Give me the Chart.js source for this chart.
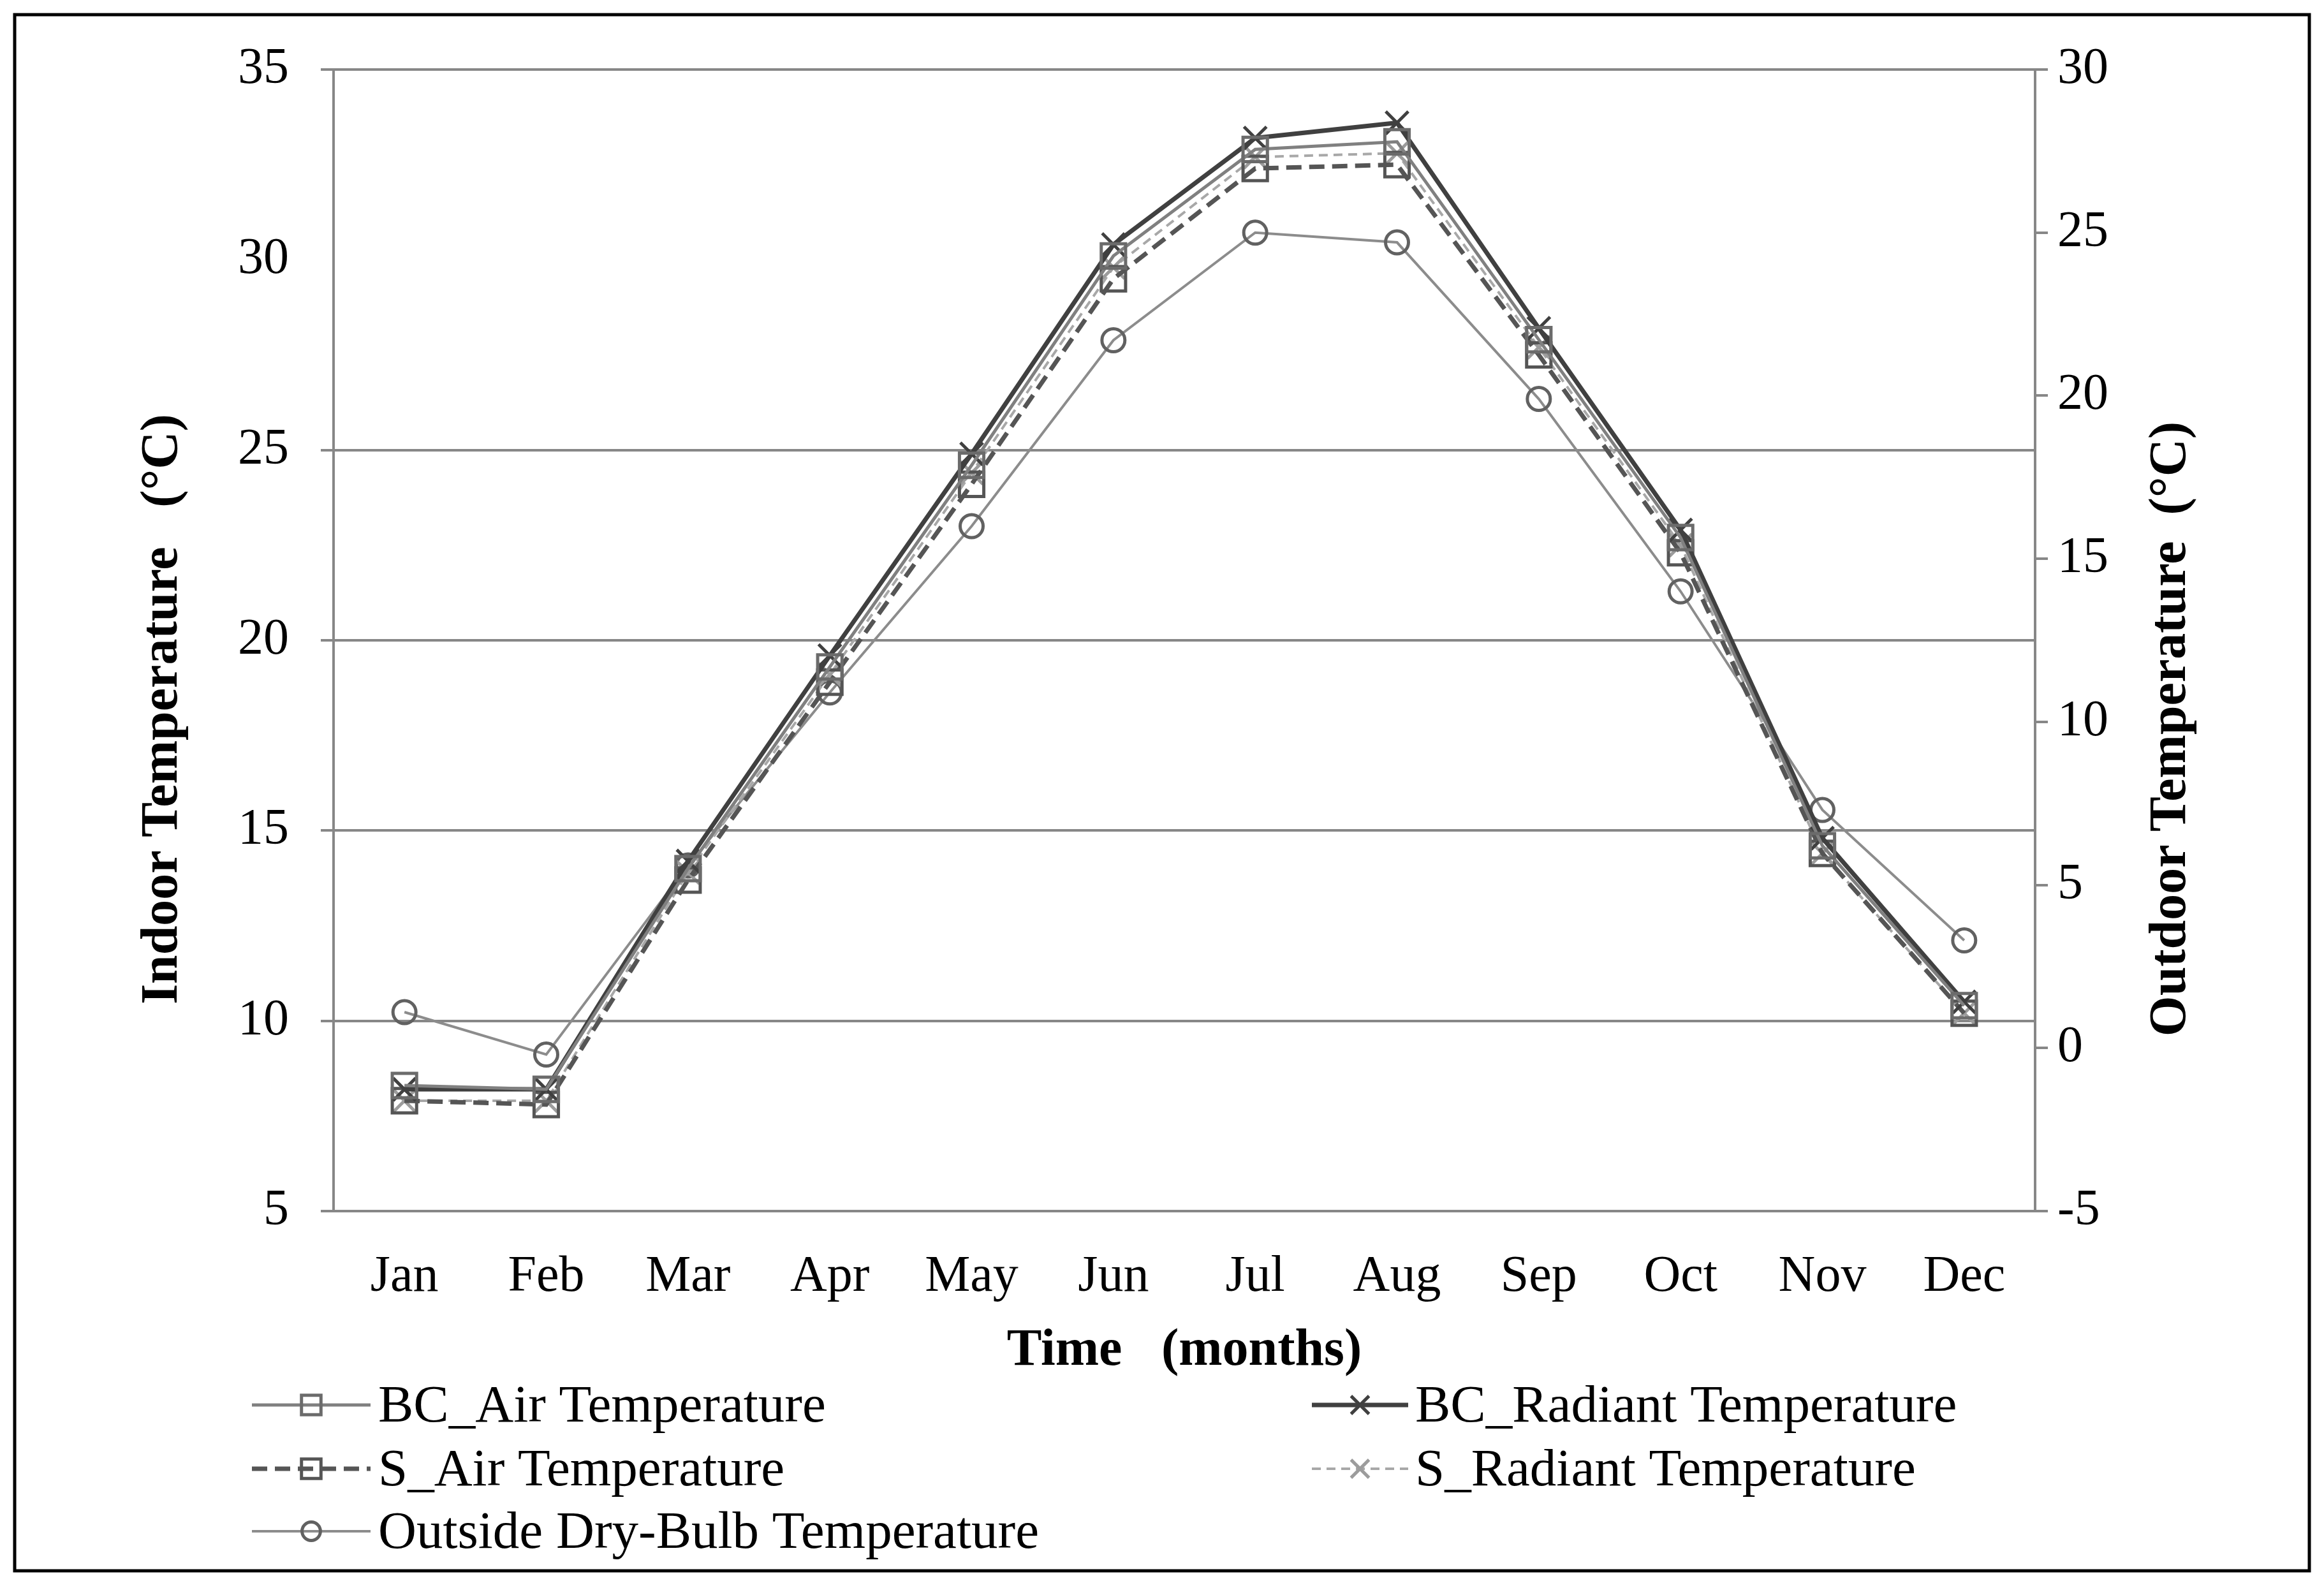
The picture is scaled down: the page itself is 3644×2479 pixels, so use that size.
<!DOCTYPE html>
<html>
<head>
<meta charset="utf-8">
<script src="https://cdn.jsdelivr.net/npm/chart.js@4.4.1/dist/chart.umd.min.js"></script>
<style>
  html, body { margin: 0; padding: 0; background: #fff; }
  #wrap { width: 3644px; height: 2479px; position: relative; }
</style>
</head>
<body>
<div id="wrap"><canvas id="chart"></canvas></div>
<script>
// ---------- data ----------
const months = ['Jan', 'Feb', 'Mar', 'Apr', 'May', 'Jun', 'Jul', 'Aug', 'Sep', 'Oct', 'Nov', 'Dec'];

const bcAir      = [8.3, 8.2, 14.0, 19.3, 24.6, 30.1, 32.9, 33.1, 27.9, 22.7, 14.6, 10.4];
const bcRadiant  = [8.2, 8.2, 14.2, 19.6, 24.9, 30.4, 33.2, 33.6, 28.2, 22.9, 14.8, 10.5];
const sAir       = [7.9, 7.8, 13.7, 18.9, 24.1, 29.5, 32.4, 32.5, 27.5, 22.3, 14.4, 10.2];
const sRadiant   = [7.9, 7.9, 13.9, 19.1, 24.4, 29.8, 32.7, 32.8, 27.7, 22.5, 14.4, 10.2];
const outsideDB  = [1.1, -0.2, 5.6, 10.9, 16.0, 21.7, 25.0, 24.7, 19.9, 14.0, 7.3, 3.3];

const indoorTicks = [5, 35, 5];    // min, max, step
const outdoorTicks = [-5, 30, 5];
const hiddenGridValue = 30;        // the reference shows no gridline at 30

// ---------- look ----------
const FONT = '"Liberation Serif", "Times New Roman", serif';
const GRID = '#878787';

const leftTitle = 'Indoor Temperature   (°C)';
const rightTitle = 'Outdoor Temperature  (°C)';

// =============================
// EXTRA DRAWING (frame, y titles, legend)
// =============================

function drawMarker(ctx, style, r, x, y) {
  ctx.beginPath();
  if (style === 'rect') {
    const s = r * Math.SQRT1_2;
    ctx.rect(x - s, y - s, 2 * s, 2 * s);
  } else if (style === 'crossRot') {
    const s = r * Math.SQRT1_2;
    ctx.moveTo(x - s, y - s); ctx.lineTo(x + s, y + s);
    ctx.moveTo(x + s, y - s); ctx.lineTo(x - s, y + s);
  } else {
    ctx.arc(x, y, r, 0, Math.PI * 2);
  }
  ctx.stroke();
}

const legendSlots = [
  { x1: 395, x2: 581, tx: 593, y: 2203 },
  { x1: 2057, x2: 2208, tx: 2219, y: 2203 },
  { x1: 395, x2: 581, tx: 593, y: 2303 },
  { x1: 2057, x2: 2208, tx: 2219, y: 2303 },
  { x1: 395, x2: 581, tx: 593, y: 2401 }
];

const extras = {
  id: 'extras',
  afterDraw(chart) {
    const ctx = chart.ctx;
    ctx.save();

    // outer frame
    ctx.strokeStyle = '#000';
    ctx.lineWidth = 5;
    ctx.strokeRect(23, 23, 3598, 2440);

    // y axis titles (both read bottom to top)
    ctx.fillStyle = '#000';
    ctx.font = 'bold 82px ' + FONT;
    ctx.textAlign = 'center';
    ctx.textBaseline = 'middle';
    [[leftTitle, 256, 1112], [rightTitle, 3405, 1143]].forEach(([t, x, y]) => {
      ctx.save();
      ctx.translate(x, y);
      ctx.rotate(-Math.PI / 2);
      ctx.fillText(t, 0, 0);
      ctx.restore();
    });

    // legend
    ctx.font = '83px ' + FONT;
    ctx.textAlign = 'left';
    chart.data.datasets.forEach((ds, i) => {
      const slot = legendSlots[i];
      ctx.save();
      ctx.strokeStyle = ds.borderColor;
      ctx.lineWidth = ds.borderWidth;
      ctx.setLineDash(ds.borderDash || []);
      ctx.beginPath();
      ctx.moveTo(slot.x1, slot.y);
      ctx.lineTo(slot.x2, slot.y);
      ctx.stroke();
      ctx.setLineDash([]);
      ctx.strokeStyle = ds.pointBorderColor;
      ctx.lineWidth = ds.pointBorderWidth;
      drawMarker(ctx, ds.pointStyle, ds.pointRadius * 0.8, (slot.x1 + slot.x2) / 2, slot.y);
      ctx.restore();
      ctx.fillText(ds.label, slot.tx, slot.y + 4);
    });

    ctx.restore();
  }
};

// =============================
// CHART
// =============================

const tickFont = { family: FONT, size: 80 };

new Chart(document.getElementById('chart'), {
  type: 'line',
  data: {
    labels: months,
    datasets: [
      {
        label: 'BC_Air Temperature',
        data: bcAir,
        yAxisID: 'y',
        borderColor: '#808080',
        borderWidth: 5,
        pointStyle: 'rect',
        pointRadius: 27,
        pointBorderColor: '#6b6b6b',
        pointBorderWidth: 5,
        pointBackgroundColor: 'rgba(0,0,0,0)'
      },
      {
        label: 'BC_Radiant Temperature',
        data: bcRadiant,
        yAxisID: 'y',
        borderColor: '#404040',
        borderWidth: 7,
        pointStyle: 'crossRot',
        pointRadius: 25,
        pointBorderColor: '#404040',
        pointBorderWidth: 5,
        pointBackgroundColor: 'rgba(0,0,0,0)'
      },
      {
        label: 'S_Air Temperature',
        data: sAir,
        yAxisID: 'y',
        borderColor: '#555555',
        borderWidth: 7,
        borderDash: [24, 12],
        pointStyle: 'rect',
        pointRadius: 27,
        pointBorderColor: '#555555',
        pointBorderWidth: 5,
        pointBackgroundColor: 'rgba(0,0,0,0)'
      },
      {
        label: 'S_Radiant Temperature',
        data: sRadiant,
        yAxisID: 'y',
        borderColor: '#a8a8a8',
        borderWidth: 4,
        borderDash: [14, 9],
        pointStyle: 'crossRot',
        pointRadius: 25,
        pointBorderColor: '#9c9c9c',
        pointBorderWidth: 5,
        pointBackgroundColor: 'rgba(0,0,0,0)'
      },
      {
        label: 'Outside Dry-Bulb Temperature',
        data: outsideDB,
        yAxisID: 'y2',
        borderColor: '#8c8c8c',
        borderWidth: 4,
        pointStyle: 'circle',
        pointRadius: 18,
        pointBorderColor: '#616161',
        pointBorderWidth: 5,
        pointBackgroundColor: 'rgba(0,0,0,0)'
      }
    ]
  },
  options: {
    responsive: true,
    maintainAspectRatio: false,
    devicePixelRatio: 1,
    animation: false,
    layout: { padding: { left: 0, right: 0, top: 109, bottom: 280 } },
    plugins: {
      legend: { display: false },
      tooltip: { enabled: false }
    },
    elements: { line: { tension: 0 } },
    scales: {
      x: {
        offset: true,
        grid: { display: false },
        border: { display: true, color: GRID, width: 4 },
        ticks: { font: tickFont, color: '#000', padding: 48, maxRotation: 0, autoSkip: false },
        title: {
          display: true,
          text: 'Time   (months)',
          color: '#000',
          font: { family: FONT, size: 82, weight: 'bold' },
          padding: { top: 0, bottom: 31 }
        },
        afterFit: scale => { scale.height = 300; }
      },
      y: {
        position: 'left',
        min: indoorTicks[0],
        max: indoorTicks[1],
        ticks: { stepSize: indoorTicks[2], font: tickFont, color: '#000', padding: 50 },
        grid: {
          color: c => (c.tick && c.tick.value === hiddenGridValue) ? 'rgba(0,0,0,0)' : GRID,
          lineWidth: 4,
          tickLength: 20
        },
        border: { display: true, color: GRID, width: 4 },
        afterFit: scale => { scale.width = 523; }
      },
      y2: {
        position: 'right',
        min: outdoorTicks[0],
        max: outdoorTicks[1],
        ticks: { stepSize: outdoorTicks[2], font: tickFont, color: '#000', padding: 15 },
        grid: { drawOnChartArea: false, color: GRID, lineWidth: 4, tickLength: 20 },
        border: { display: true, color: GRID, width: 4 },
        afterFit: scale => { scale.width = 453; }
      }
    }
  },
  plugins: [extras]
});
</script>
</body>
</html>
